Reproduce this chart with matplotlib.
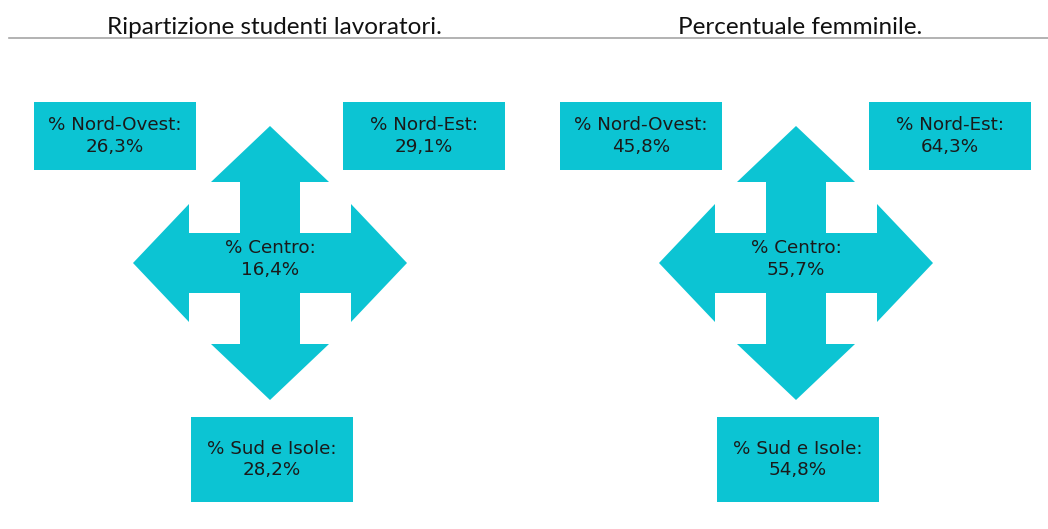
import matplotlib
matplotlib.use("Agg")
import matplotlib.pyplot as plt
from matplotlib.patches import Polygon, Rectangle

# --- dati ---
titles = ["Ripartizione studenti lavoratori.", "Percentuale femminile."]
regions = ["Nord-Ovest", "Nord-Est", "Centro", "Sud e Isole"]
lavoratori = ["26,3%", "29,1%", "16,4%", "28,2%"]
femminile = ["45,8%", "64,3%", "55,7%", "54,8%"]

CYAN = "#0cc4d3"
TXT = "#1a1a1a"
W, H = 1048, 529


def cross_arrow(cx, cy, tip=137, head=59, shaft=30, head_len=56):
    # freccia a 4 punte (come SmartArt): contorno in senso orario
    b = tip - head_len
    pts = [
        (cx, cy - tip), (cx + head, cy - b), (cx + shaft, cy - b),
        (cx + shaft, cy - shaft), (cx + b, cy - shaft), (cx + b, cy - head),
        (cx + tip, cy), (cx + b, cy + head), (cx + b, cy + shaft),
        (cx + shaft, cy + shaft), (cx + shaft, cy + b), (cx + head, cy + b),
        (cx, cy + tip), (cx - head, cy + b), (cx - shaft, cy + b),
        (cx - shaft, cy + shaft), (cx - b, cy + shaft), (cx - b, cy + head),
        (cx - tip, cy), (cx - b, cy - head), (cx - b, cy - shaft),
        (cx - shaft, cy - shaft), (cx - shaft, cy - b), (cx - head, cy - b),
    ]
    return Polygon(pts, closed=True, fc=CYAN, ec="none")


def panel(ax, x0, title, vals):
    ax.text(x0 + 274, 27, title, ha="center", va="center", fontsize=17.5,
            family="Lato", color="#111111")
    # caselle: (x, y, w, h) relative al pannello
    boxes = {0: (34, 102, 162, 68), 1: (343, 102, 162, 68), 3: (191, 417, 162, 85)}
    ax.add_patch(cross_arrow(x0 + 270, 263))
    for i, (bx, by, bw, bh) in boxes.items():
        ax.add_patch(Rectangle((x0 + bx, by), bw, bh, fc=CYAN, ec="none"))
        ax.text(x0 + bx + bw / 2, by + bh / 2, f"% {regions[i]}:\n{vals[i]}",
                ha="center", va="center", fontsize=13.2, color=TXT,
                linespacing=1.22)
    ax.text(x0 + 270, 259, f"% {regions[2]}:\n{vals[2]}", ha="center", va="center",
            fontsize=13.2, color=TXT, linespacing=1.22)


fig = plt.figure(figsize=(W / 100, H / 100), dpi=100)
ax = fig.add_axes([0, 0, 1, 1])
ax.set_xlim(0, W)
ax.set_ylim(H, 0)
ax.axis("off")

ax.plot([9, W], [38, 38], color="#a6a6a6", lw=1.2)
panel(ax, 0, titles[0], lavoratori)
panel(ax, 526, titles[1], femminile)

fig.savefig("out.png", dpi=100, facecolor="white")
